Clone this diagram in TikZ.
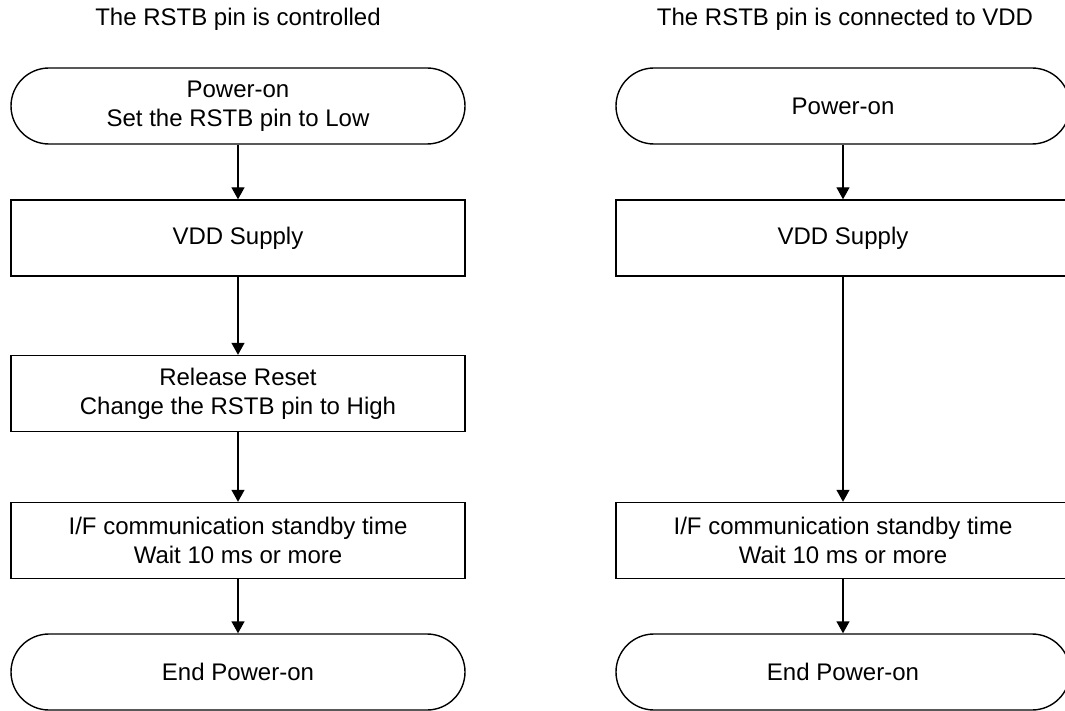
\documentclass[tikz,border=0pt]{standalone}
\usepackage{fontspec}
\setmainfont{Liberation Sans}
\usetikzlibrary{arrows.meta}
\begin{document}
\begin{tikzpicture}[x=1pt,y=-1pt,
  base/.style={draw=black,line width=1.4pt,fill=white,minimum width=454pt,minimum height=76pt,
    inner sep=0pt,align=center,font=\fontsize{24}{29}\selectfont},
  term/.style={base,rounded corners=38pt},
  proc/.style={base},
  title/.style={font=\fontsize{24}{29}\selectfont,inner sep=0pt},
  arr/.style={line width=1.4pt,-{Triangle[width=13pt,length=12pt]}}]
\useasboundingbox (0,0) rectangle (1065,711);
\clip (0,0) rectangle (1065,711);
% left column
\node[title] (lt) at (238,19) {The RSTB pin is controlled};
\node[term] (l1) at (238,106) {Power-on\\Set the RSTB pin to Low};
\node[proc] (l2) at (238,238) {VDD Supply};
\node[proc] (l3) at (238,393.5) {Release Reset\\Change the RSTB pin to High};
\node[proc] (l4) at (238,540.5) {I/F communication standby time\\Wait 10 ms or more};
\node[term] (l5) at (238,672) {End Power-on};
\draw[arr] (l1) -- (l2);
\draw[arr] (l2) -- (l3);
\draw[arr] (l3) -- (l4);
\draw[arr] (l4) -- (l5);
% right column
\node[title] (rt) at (845,19) {The RSTB pin is connected to VDD};
\node[term] (r1) at (843,106) {Power-on};
\node[proc] (r2) at (843,238) {VDD Supply};
\node[proc] (r4) at (843,540.5) {I/F communication standby time\\Wait 10 ms or more};
\node[term] (r5) at (843,672) {End Power-on};
\draw[arr] (r1) -- (r2);
\draw[arr] (r2) -- (r4);
\draw[arr] (r4) -- (r5);
\end{tikzpicture}
\end{document}
